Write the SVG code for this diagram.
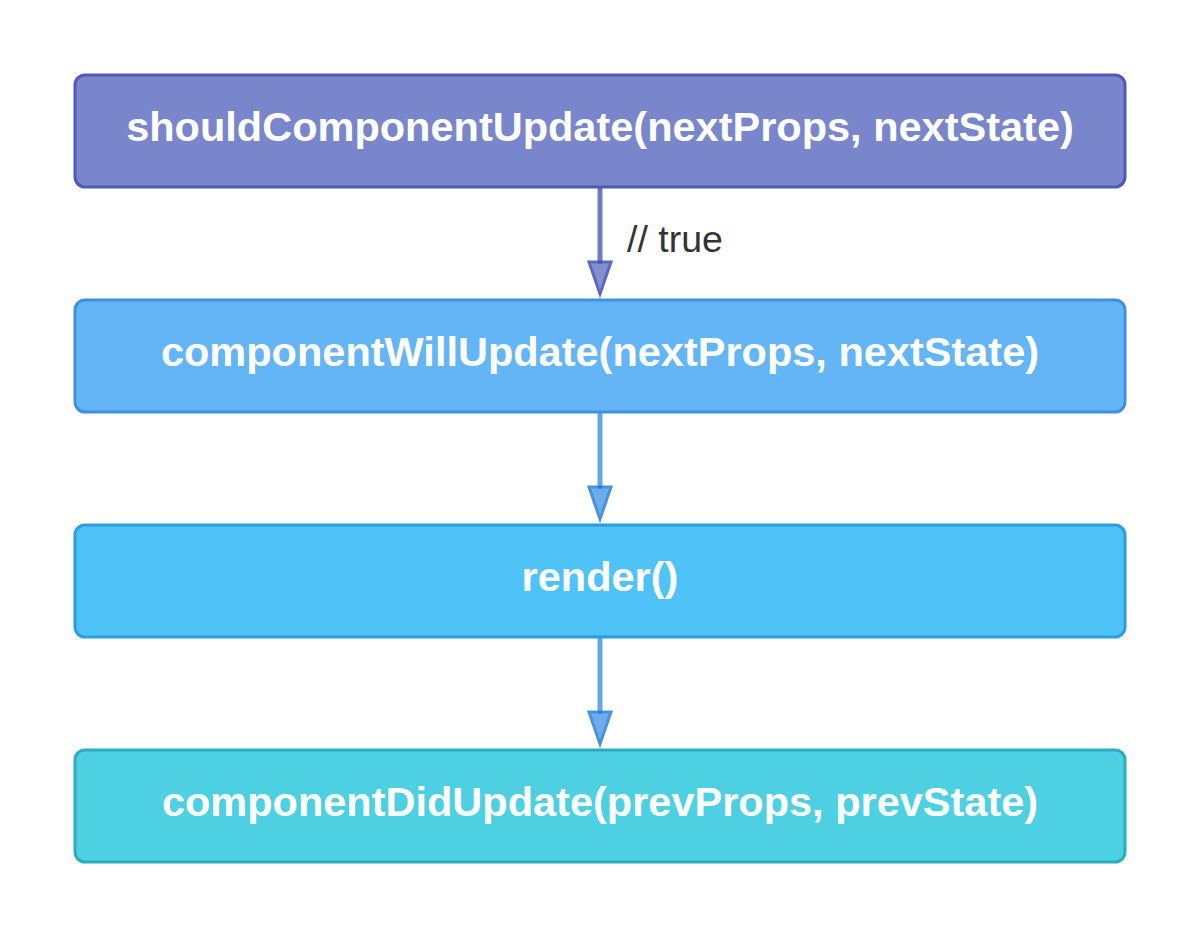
<svg xmlns="http://www.w3.org/2000/svg" width="1200" height="938" viewBox="0 0 1200 938">
<style>
.box{stroke-width:3}
.t{font-family:"Liberation Sans",Arial,sans-serif;font-weight:bold;font-size:41.5px;fill:#ffffff;text-anchor:middle}
.lbl{font-family:"Liberation Sans",Arial,sans-serif;font-size:37.5px;fill:#333333}
.c1{stroke:#5C6BC0;stroke-width:5;opacity:0.9}
.c2{stroke:#3D8FE0;stroke-width:5;opacity:0.8}
</style>
<rect width="1200" height="938" fill="#ffffff"/>
<g id="connectors">
<line class="c1" x1="600" y1="187" x2="600" y2="264"/>
<path d="M589,262 L611,262 L600,294 Z" fill="#6E7CC8" stroke="#3F51B5" stroke-width="3" opacity="0.85"/>
<text class="lbl" x="627" y="252">// true</text>
<line class="c2" x1="600" y1="412" x2="600" y2="489"/>
<path d="M589,487 L611,487 L600,519 Z" fill="#4A98E8" stroke="#1E78D8" stroke-width="3" opacity="0.8"/>
<line class="c2" x1="600" y1="637" x2="600" y2="714"/>
<path d="M589,712 L611,712 L600,744 Z" fill="#4A98E8" stroke="#1E78D8" stroke-width="3" opacity="0.8"/>
</g>
<g id="shouldComponentUpdate">
<rect class="box" x="75" y="75" width="1050" height="112" rx="10" fill="#7986CB" stroke="#5058B8"/>
<text class="t" x="600" y="141">shouldComponentUpdate(nextProps, nextState)</text>
</g>
<g id="componentWillUpdate">
<rect class="box" x="75" y="300" width="1050" height="112" rx="10" fill="#64B5F6" stroke="#3F90E0"/>
<text class="t" x="600" y="366">componentWillUpdate(nextProps, nextState)</text>
</g>
<g id="render">
<rect class="box" x="75" y="525" width="1050" height="112" rx="10" fill="#4FC3F7" stroke="#2A9FDC"/>
<text class="t" x="600" y="591">render()</text>
</g>
<g id="componentDidUpdate">
<rect class="box" x="75" y="750" width="1050" height="112" rx="10" fill="#4DD0E1" stroke="#28AEBE"/>
<text class="t" x="600" y="816">componentDidUpdate(prevProps, prevState)</text>
</g>
</svg>
